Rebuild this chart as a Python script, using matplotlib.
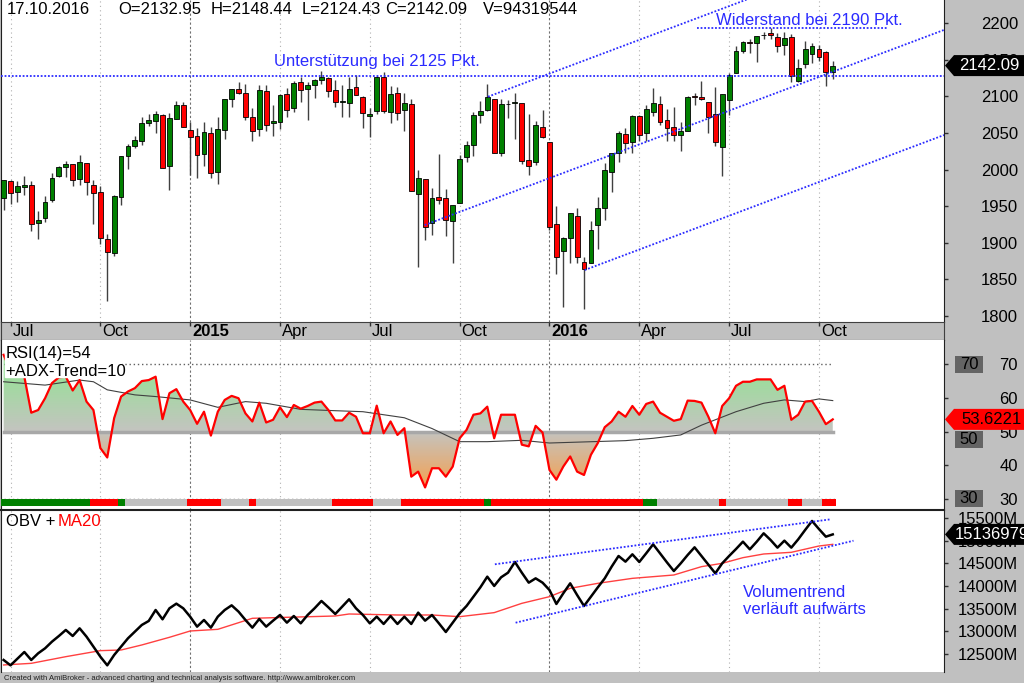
import numpy as np
import matplotlib
matplotlib.use("Agg")
import matplotlib.pyplot as plt
from matplotlib.colors import LinearSegmentedColormap
from matplotlib.patches import Polygon, Rectangle
from matplotlib.path import Path

plt.rcParams['font.family'] = ['Liberation Sans', 'DejaVu Sans']

# === DATA: weekly bars 30.06.2014 - 17.10.2016 ===
opens = [1960.8, 1984.2, 1969.9, 1976.9, 1978.3, 1926.6, 1933.4, 1958.4, 1991.7, 2004.1,
         2007.2, 1986.8, 2009.1, 1979.0, 1970.0, 1905.7, 1885.6, 1963.0, 2018.2, 2032.1,
         2039.7, 2064.1, 2065.8, 2074.8, 2005.0, 2069.3, 2087.6, 2054.4, 2046.1, 2020.8,
         2050.4, 1996.7, 2053.5, 2096.5, 2109.8, 2105.2, 2072.3, 2055.4, 2108.0, 2064.1,
         2064.9, 2102.9, 2084.1, 2119.3, 2110.2, 2115.6, 2122.3, 2125.3, 2108.6, 2092.3,
         2091.3, 2112.5, 2098.6, 2073.6, 2080.0, 2126.9, 2078.7, 2104.5, 2081.4, 2089.7,
         1966.7, 1986.7, 1927.3, 1963.1, 1960.6, 1929.2, 1954.3, 2016.8, 2033.5, 2075.1,
         2080.8, 2096.6, 2022.6, 2089.4, 2091.4, 2091.4, 2013.4, 2010.3, 2057.8, 2038.2,
         1926.1, 1888.7, 1906.9, 1936.9, 1873.3, 1872.0, 1924.4, 1947.6, 1996.1, 2022.6,
         2048.6, 2037.9, 2073.2, 2050.2, 2079.1, 2090.3, 2067.2, 2057.6, 2047.6, 2052.2,
         2100.1, 2099.3, 2091.8, 2075.6, 2031.5, 2095.1, 2131.7, 2162.0, 2173.7, 2173.2,
         2183.8, 2186.1, 2181.6, 2170.2, 2181.6, 2120.9, 2143.9, 2158.5, 2164.3, 2160.4,
         2132.95]
highs = [1985.6, 1985.6, 1983.9, 1991.4, 1984.9, 1942.9, 1964.0, 1994.8, 2005.0, 2011.2,
         2007.2, 2019.3, 2009.1, 1985.2, 1977.8, 1912.1, 1965.3, 2018.2, 2034.3, 2046.2,
         2071.5, 2075.8, 2079.5, 2075.8, 2077.8, 2093.6, 2093.0, 2064.4, 2056.9, 2064.6,
         2057.6, 2072.4, 2097.0, 2110.6, 2119.6, 2117.5, 2083.5, 2114.9, 2114.9, 2088.3,
         2102.6, 2111.9, 2120.9, 2125.9, 2120.0, 2123.9, 2134.7, 2126.2, 2121.9, 2115.0,
         2126.6, 2129.9, 2100.0, 2083.7, 2128.0, 2132.8, 2114.2, 2112.7, 2104.0, 2096.1,
         1999.4, 1986.7, 1975.0, 2020.9, 1974.0, 1952.0, 2020.0, 2039.0, 2079.0, 2094.0,
         2116.5, 2097.0, 2097.0, 2095.0, 2104.0, 2090.0, 2076.0, 2067.0, 2081.0, 2038.0,
         1950.3, 1908.0, 1940.2, 1947.2, 1881.0, 1930.0, 1962.0, 2009.1, 2022.2, 2052.4,
         2056.6, 2075.1, 2075.1, 2087.8, 2111.1, 2099.9, 2083.3, 2084.9, 2064.7, 2100.0,
         2105.3, 2120.6, 2091.8, 2113.3, 2103.0, 2131.7, 2169.1, 2175.6, 2178.3, 2183.0,
         2187.7, 2193.8, 2186.6, 2187.9, 2184.9, 2150.8, 2175.3, 2172.7, 2169.6, 2161.6,
         2148.44]
lows = [1944.7, 1952.9, 1955.6, 1965.8, 1916.8, 1904.8, 1928.9, 1956.0, 1990.5, 1990.1,
        1977.6, 1978.5, 1965.0, 1926.0, 1898.0, 1820.7, 1882.0, 1951.4, 2001.0, 2030.0,
        2034.0, 2060.0, 2049.6, 2002.1, 1972.6, 2069.3, 2057.9, 1992.4, 1988.1, 2004.5,
        1989.2, 1980.9, 2041.9, 2085.4, 2103.2, 2067.3, 2039.7, 2046.0, 2052.1, 2045.8,
        2056.0, 2072.3, 2078.5, 2091.7, 2067.9, 2098.2, 2117.0, 2099.2, 2085.7, 2072.1,
        2072.1, 2101.5, 2056.3, 2044.0, 2076.0, 2077.1, 2063.5, 2067.9, 2052.1, 1970.9,
        1867.0, 1903.8, 1910.0, 1953.0, 1908.8, 1871.9, 1954.3, 2011.0, 2018.0, 2063.0,
        2080.0, 2022.0, 2019.0, 2070.0, 2042.0, 2008.0, 1993.3, 2005.7, 2043.0, 1918.0,
        1857.8, 1812.3, 1872.0, 1872.7, 1810.1, 1872.0, 1891.0, 1931.8, 1969.3, 2010.0,
        2022.5, 2022.5, 2039.7, 2039.7, 2073.0, 2060.7, 2039.5, 2039.5, 2025.7, 2052.2,
        2088.5, 2095.3, 2050.4, 2032.1, 1991.7, 2074.0, 2131.7, 2159.0, 2159.1, 2147.6,
        2178.1, 2179.0, 2160.4, 2157.0, 2119.1, 2119.1, 2139.2, 2145.2, 2149.0, 2114.7,
        2124.43]
closes = [1985.4, 1967.6, 1978.2, 1978.3, 1925.2, 1931.6, 1955.1, 1988.4, 2003.4, 2007.7,
          1985.5, 2010.4, 1982.9, 1967.9, 1906.1, 1886.8, 1964.6, 2018.1, 2031.9, 2039.8,
          2063.5, 2067.6, 2075.4, 2002.3, 2070.7, 2088.8, 2058.2, 2044.8, 2019.4, 2051.8,
          1995.0, 2055.5, 2097.0, 2110.3, 2104.5, 2071.3, 2053.4, 2108.1, 2061.0, 2067.0,
          2102.1, 2081.2, 2117.7, 2108.3, 2116.1, 2122.7, 2126.1, 2107.4, 2092.8, 2094.1,
          2110.0, 2101.5, 2076.8, 2076.6, 2126.6, 2079.7, 2103.8, 2077.6, 2091.5, 1970.9,
          1988.9, 1921.2, 1961.1, 1958.0, 1931.3, 1951.4, 2014.9, 2033.1, 2075.2, 2079.4,
          2099.2, 2023.0, 2089.2, 2090.1, 2091.7, 2012.4, 2005.6, 2061.0, 2043.9, 1922.0,
          1880.3, 1906.9, 1940.2, 1880.1, 1864.8, 1917.8, 1948.1, 2000.0, 2022.2, 2049.6,
          2035.9, 2072.8, 2047.6, 2082.4, 2091.6, 2065.3, 2057.1, 2046.6, 2052.3, 2099.1,
          2099.1, 2096.1, 2071.2, 2037.4, 2103.0, 2129.9, 2161.7, 2175.0, 2173.6, 2182.9,
          2184.1, 2183.9, 2169.0, 2180.0, 2127.8, 2139.2, 2164.7, 2168.3, 2153.7, 2133.0,
          2142.09]
volume_last = 94319544

rsi14 = [72.8, 68.0, 68.5, 66.3, 55.6, 56.4, 59.9, 64.4, 66.1, 66.3,
         62.2, 65.3, 58.9, 56.4, 45.1, 42.3, 54.0, 60.4, 61.9, 62.9,
         65.0, 65.3, 66.3, 53.7, 61.4, 62.6, 58.9, 56.4, 52.3, 55.9,
         48.8, 55.9, 59.4, 60.6, 59.9, 55.4, 53.0, 58.6, 52.7, 53.5,
         57.2, 54.3, 57.9, 56.8, 57.6, 58.6, 58.9, 56.4, 53.3, 53.3,
         55.6, 54.4, 49.5, 49.5, 57.7, 49.5, 53.0, 49.0, 51.0, 36.6,
         38.1, 33.4, 39.1, 39.1, 36.6, 39.6, 48.0, 50.5, 55.0, 55.4,
         57.4, 48.0, 55.0, 55.0, 55.0, 46.1, 45.6, 51.7, 49.7, 38.6,
         35.7, 39.6, 42.6, 38.1, 37.1, 43.1, 46.6, 51.3, 53.0, 55.9,
         54.4, 57.6, 55.0, 58.2, 58.9, 55.6, 54.4, 53.2, 53.7, 59.2,
         59.1, 58.6, 54.4, 49.5, 57.6, 59.9, 63.6, 64.8, 64.8, 65.5,
         65.5, 65.5, 62.4, 63.6, 53.5, 55.0, 58.9, 59.1, 55.9, 52.2,
         53.6221]
rsi_ma_idx = [0, 6, 11, 13, 15, 19, 22, 27, 31, 35, 38, 43, 48, 52, 58,
              62, 66, 70, 75, 79, 90, 94, 98, 101, 106, 110, 113, 116, 118, 120]
rsi_ma_val = [64.8, 63.8, 65.3, 64.8, 62.4, 60.9, 60.4, 59.4, 57.2, 58.9, 58.4, 56.6, 56.2, 55.9, 54.1,
              50.9, 47.0, 47.0, 47.4, 46.6, 47.3, 48.0, 49.0, 51.9, 55.9, 58.4, 59.4, 58.9, 59.7, 59.2]
# ADX trend strip: (state, number of weeks)  g=up, r=down, n=neutral
adx_runs = [('g', 13), ('r', 4), ('g', 1), ('n', 9), ('r', 5), ('n', 4), ('r', 1), ('n', 11),
            ('r', 6), ('n', 4), ('r', 12), ('g', 1), ('r', 22), ('g', 2), ('n', 9), ('r', 1),
            ('n', 9), ('r', 2), ('n', 3), ('r', 2)]

# OBV in millions
obv = [12368, 12250, 12397, 12544, 12368, 12515, 12625, 12772, 12897, 13030,
       12897, 13066, 12882, 12662, 12441, 12250, 12478, 12662, 12846, 12993,
       13140, 13228, 13470, 13265, 13507, 13610, 13507, 13323, 13103, 13250,
       13081, 13323, 13470, 13573, 13434, 13250, 13081, 13272, 13103, 13235,
       13360, 13191, 13338, 13176, 13360, 13507, 13669, 13529, 13382, 13544,
       13706, 13507, 13360, 13176, 13323, 13162, 13338, 13162, 13323, 13162,
       13412, 13235, 13360, 13176, 12985, 13191, 13397, 13559, 13764, 13970,
       14205, 14000, 14191, 14293, 14529, 14293, 14073, 14168, 14073, 13911,
       13603, 13838, 14058, 13801, 13559, 13764, 13970, 14168, 14426, 14661,
       14536, 14698, 14529, 14720, 14918, 14720, 14521, 14330, 14499, 14683,
       14852, 14661, 14470, 14279, 14499, 14661, 14815, 14977, 14808, 14977,
       15161, 15014, 14845, 14999, 14845, 15028, 15234, 15433, 15256, 15087,
       15137]
obv_last = 15136979
obv_ma_idx = [0, 4, 9, 14, 17, 20, 24, 27, 31, 36, 41, 48, 50, 57, 62,
              66, 71, 75, 79, 82, 86, 91, 97, 101, 104, 107, 110, 114, 118, 120]
obv_ma_val = [12258, 12294, 12441, 12574, 12588, 12699, 12868, 13007, 13044, 13287, 13309, 13338, 13382, 13360, 13360,
              13323, 13412, 13617, 13764, 13948, 14058, 14168, 14242, 14426, 14499, 14624, 14705, 14742, 14881, 14918]

month_ticks = [1, 14, 27, 40, 53, 66, 79, 92, 105, 118]
month_labels = ['Jul', 'Oct', '2015', 'Apr', 'Jul', 'Oct', '2016', 'Apr', 'Jul', 'Oct']

# drawn trend lines (start, end) as (week index, value)
support_line = 2128
resist_line = ((100.3, 2193), (128.0, 2193))
chan_top = ((70.1, 2099.6), (136.1, 2333.6))
chan_mid = ((60.95, 1924.3), (136.1, 2190.8))
chan_low = ((84.1, 1862.8), (136.1, 2047.2))
obv_up = ((71.1, 14478), (119.7, 15470))
obv_dn = ((74.1, 13190), (123.0, 14998))

# === SETUP ===
W, H = 1024, 683
GRAY = '#c0c0c0'
BLUE = '#2b2bff'
XL = (-0.45, 136.1)
fig = plt.figure(figsize=(W / 100, H / 100), dpi=100, facecolor=GRAY)


def px_axes(x0, y0, x1, y1):
    return fig.add_axes([x0 / W, 1 - y1 / H, (x1 - x0) / W, (y1 - y0) / H])


def right_labels(ax, ticks, labels):
    ax.yaxis.tick_right()
    ax.set_yticks(ticks)
    ax.set_yticklabels(labels, fontsize=12)
    ax.tick_params(axis='y', direction='out', length=2.9, width=1, color='#303030', pad=50.4)
    for t in ax.get_yticklabels():
        t.set_horizontalalignment('right')


def style_panel(ax):
    ax.set_xlim(*XL)
    ax.set_xticks([])
    for s in ['top', 'bottom']:
        ax.spines[s].set_visible(False)
    for s in ['left', 'right']:
        ax.spines[s].set_color('#202020')
    for t, lab in zip(month_ticks, month_labels):
        if lab.isdigit():
            ax.axvline(t, color='#707070', lw=0.8, ls=(0, (2, 2)), zorder=0)
        else:
            ax.axvline(t, color='#b0b0b0', lw=0.8, ls=(0, (1, 3)), zorder=0)


def value_tag(ax, value, text, fc, tc, ha='right', xt=1020):
    y = ax.transData.transform((0, value))[1] / H
    h = 10.5 / H
    fig.add_artist(Polygon([(945 / W, y), (954 / W, y + h), (1, y + h), (1, y - h), (954 / W, y - h)],
                           closed=True, transform=fig.transFigure, fc=fc, ec='none', zorder=5))
    fig.text(xt / W, y, text, color=tc, fontsize=12, ha=ha, va='center', zorder=6)


x = np.arange(len(closes))
o, h_, l_, c = map(np.array, (opens, highs, lows, closes))

# --- Price panel ---
ax1 = px_axes(0.5, 0, 944, 322)
style_panel(ax1)
ax1.vlines(x, l_, h_, color='#404040', lw=1, zorder=2)
cols = np.where(c > o, '#008000', '#ff0000')
ax1.bar(x, np.maximum(np.abs(c - o), 0.3), bottom=np.minimum(o, c), width=0.7,
        color=cols, edgecolor='black', lw=0.6, zorder=3)
ax1.set_ylim(1791.8, 2231.7)
right_labels(ax1, np.arange(1800, 2201, 50), [str(v) for v in range(1800, 2201, 50)])

ax1.axhline(support_line, color=BLUE, lw=1.3, ls=(0, (1, 1)), zorder=4)
for (xa, ya), (xb, yb) in [resist_line, chan_top, chan_mid, chan_low]:
    ax1.plot([xa, xb], [ya, yb], color=BLUE, lw=1.3, ls=(0, (1, 1)), zorder=4, clip_on=True)
ax1.text(39.1, 2147, 'Unterstützung bei 2125 Pkt.', color=BLUE, fontsize=12, va='center', ha='left')
ax1.text(103.1, 2203.5, 'Widerstand bei 2190 Pkt.', color=BLUE, fontsize=12, va='center', ha='left')

hy = 1 - 10 / H
fig.text(7 / W, hy, '17.10.2016', fontsize=12, va='center')
for xp, s in [(118, f'O={opens[-1]:.2f}'), (211, f'H={highs[-1]:.2f}'), (302, f'L={lows[-1]:.2f}'),
              (385, f'C={closes[-1]:.2f}'), (483, f'V={volume_last}')]:
    fig.text(xp / W, hy, s, fontsize=12, va='center')

# --- Date band ---
axd = px_axes(0.5, 322, 944, 340)
axd.set_facecolor(GRAY)
axd.set_xlim(*XL)
axd.set_ylim(0, 1)
axd.set_xticks([])
axd.set_yticks([])
for s in ['top', 'bottom', 'left', 'right']:
    axd.spines[s].set_color('#404040')
axd.vlines(month_ticks, 0.78, 1, color='#303030', lw=1)
for t, lab in zip(month_ticks, month_labels):
    axd.text(t + 0.3, 0.45, lab, fontsize=12, va='center', ha='left',
             fontweight='bold' if lab.isdigit() else 'normal')

# --- RSI panel ---
ax2 = px_axes(0.5, 340, 944, 510)
style_panel(ax2)
ax2.set_ylim(26.7, 77.2)
r = np.array(rsi14)
fb = ax2.fill_between(x, r, 50, facecolor='none', edgecolor='none')
clip = Path.make_compound_path(*fb.get_paths())
cmap = LinearSegmentedColormap.from_list('rsi', [(0.0, '#f5a050'), (0.486, '#c4c4c0'), (1.0, '#98e098')])
grad = np.linspace(26.7, 77.2, 256).reshape(-1, 1)
im = ax2.imshow(grad, extent=[XL[0], XL[1], 26.7, 77.2], origin='lower', aspect='auto',
                cmap=cmap, vmin=33, vmax=68, zorder=1)
im.set_clip_path(clip, transform=ax2.transData)
ax2.set_xlim(*XL)
ax2.set_ylim(26.7, 77.2)
ax2.plot([x[0], x[-1]], [50, 50], color='#a8a8a8', lw=2.5, zorder=2)
ax2.plot([x[0], x[-1]], [70, 70], color='#606060', lw=1, ls=(0, (1, 2)), zorder=2)
ax2.plot([x[0], x[-1] + 0.5], [30.1, 30.1], color='#606060', lw=1, ls=(0, (1, 2)), zorder=2)
ax2.plot(rsi_ma_idx, rsi_ma_val, color='#404040', lw=0.8, zorder=3)
ax2.plot(x, r, color='#ff0000', lw=1.6, zorder=4)
adx_col = {'g': '#008000', 'r': '#ff0000', 'n': GRAY}
pos = 0
for state, n in adx_runs:
    ax2.bar(pos - 0.5, 1.93, width=n, bottom=27.92, align='edge', color=adx_col[state], lw=0, zorder=3)
    pos += n
ax2.add_patch(Rectangle((0.13, 66.3), 16.9, 11, color='white', zorder=5))
ax2.text(0.3, 73.1, 'RSI(14)=54', fontsize=12, va='center', zorder=6)
ax2.text(0.3, 67.8, '+ADX-Trend=10', fontsize=12, va='center', zorder=6)
right_labels(ax2, [30, 40, 50, 60, 70], ['30', '40', '50', '60', '70'])
for lev, shift in [(70, 0), (50, -8), (30, 0)]:
    yc = (ax2.transData.transform((0, lev))[1] + shift) / H
    fig.add_artist(Rectangle((955 / W, yc - 8.5 / H), 28 / W, 17 / H, transform=fig.transFigure,
                             fc='#646464', ec='none', zorder=5))
    fig.text(969 / W, yc, str(lev), fontsize=12, ha='center', va='center', zorder=6)
value_tag(ax2, rsi14[-1], f'{rsi14[-1]:.4f}', '#ff0000', 'black', xt=1022)

# --- OBV panel ---
ax3 = px_axes(0.5, 510, 944, 672)
style_panel(ax3)
ax3.spines['top'].set_visible(True)
ax3.spines['top'].set_color('#202020')
ax3.spines['top'].set_linewidth(1.5)
ax3.set_ylim(12103, 15675)
ax3.plot(obv_ma_idx, obv_ma_val, color='#ff4040', lw=1, zorder=2)
ax3.plot(x, obv, color='black', lw=1.8, zorder=3)
for (xa, ya), (xb, yb) in [obv_up, obv_dn]:
    ax3.plot([xa, xb], [ya, yb], color=BLUE, lw=1.3, ls=(0, (1, 1)), zorder=4)
ax3.text(107.0, 13670, 'Volumentrend\nverläuft aufwärts', color=BLUE, fontsize=12,
         va='center', ha='left', linespacing=1.15)
ax3.text(0.3, 15420, 'OBV + ', fontsize=12, va='center')
ax3.text(7.85, 15420, 'MA20', fontsize=12, va='center', color='#ff0000')
right_labels(ax3, np.arange(12500, 15501, 500), [f'{v}M' for v in range(12500, 15501, 500)])
value_tag(ax3, obv_last / 1000, str(obv_last), 'black', 'white', ha='left', xt=955)

value_tag(ax1, closes[-1], f'{closes[-1]:.2f}', 'black', 'white')

fig.text(4 / W, 1 - 678 / H,
         'Created with AmiBroker - advanced charting and technical analysis software. http://www.amibroker.com',
         fontsize=5.5, va='center', color='#202020')

fig.savefig('out.png', dpi=100, facecolor=GRAY)
